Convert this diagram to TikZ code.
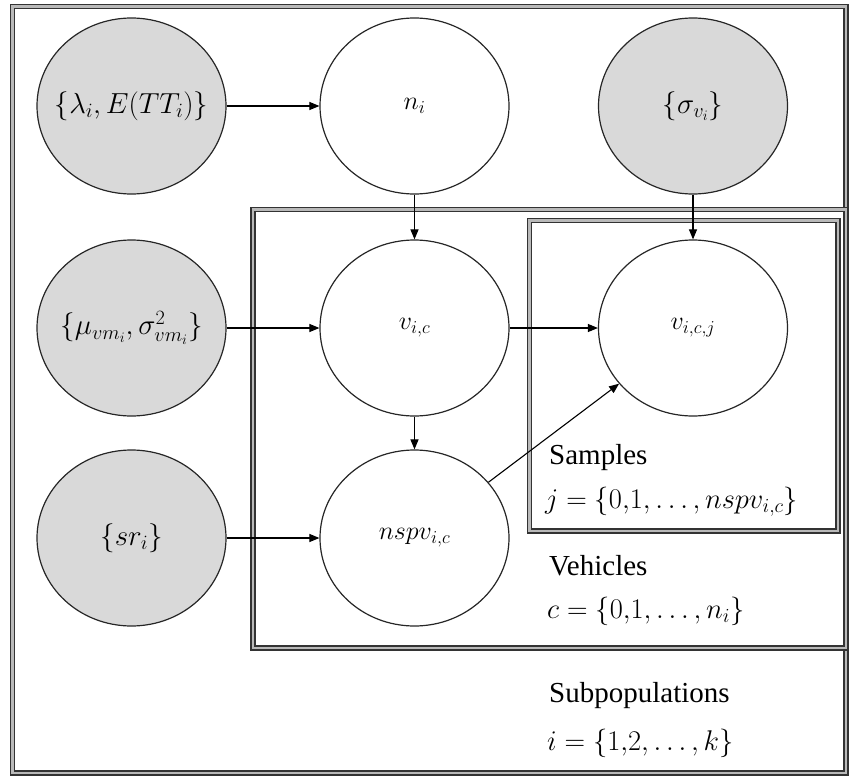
\RequirePackage{fix-cm}
\documentclass[tikz,border=0pt]{standalone}
\usepackage{fontspec}
\setmainfont{Liberation Serif}
\usetikzlibrary{shapes.geometric,arrows.meta}
\newcommand{\zw}[1]{\makebox[0pt][c]{#1}}
\begin{document}
\begin{tikzpicture}[x=1pt,y=-1pt,
  rv/.style={ellipse,draw=black!85,line width=1.2pt,minimum width=189pt,minimum height=176pt,inner sep=0pt},
  obs/.style={rv,fill=gray!30,font=\fontsize{29}{34}\selectfont},
  lat/.style={rv,fill=white,font=\fontsize{26}{30}\selectfont},
  plate/.style={draw=black!80,line width=1.5pt,double=gray!55,double distance=2.4pt},
  arr/.style={-{Triangle[width=8pt,length=10pt]},line width=1.1pt,draw=black},
  lbl/.style={anchor=base west,inner sep=0pt,font=\fontsize{29}{34}\selectfont},
  mlbl/.style={lbl,font=\fontsize{28.5}{34}\selectfont}]
\useasboundingbox (0,0) rectangle (849,776);
% plates
\draw[plate] (12.5,6.5) rectangle (846,773);
\draw[plate] (253,209.5) rectangle (846,648);
\draw[plate] (529.5,220.5) rectangle (838,531);
% nodes
\node[obs] (lam) at (131.5,106) {\zw{$\{\lambda_i, E(TT_i)\}$}};
\node[lat] (ni) at (414.5,106) {\zw{$n_i$}};
\node[obs] (sig) at (693,106) {\zw{$\{\sigma_{v_i}\}$}};
\node[obs] (mu) at (131.5,328) {\zw{$\{\mu_{vm_i},\sigma_{vm_i}^{2}\}$}};
\node[lat] (vic) at (414.5,328) {\zw{$v_{i,c}$}};
\node[lat] (vicj) at (693,328) {\zw{$v_{i,c,j}$}};
\node[obs] (sr) at (131.5,538) {\zw{$\{sr_i\}$}};
\node[lat] (nspv) at (414.5,538) {\zw{$nspv_{i,c}$}};
% edges
\draw[arr] (lam) -- (ni);
\draw[arr] (ni) -- (vic);
\draw[arr] (sig) -- (vicj);
\draw[arr] (mu) -- (vic);
\draw[arr] (vic) -- (vicj);
\draw[arr] (vic) -- (nspv);
\draw[arr] (sr) -- (nspv);
\draw[arr] (nspv) -- (vicj);
% labels
\node[lbl] (ls) at (549,464) {Samples};
\node[mlbl] (lj) at (545,508) {$j=\{0{,}1,\dots,nspv_{i,c}\}$};
\node[lbl] (lv) at (549,575) {Vehicles};
\node[mlbl] (lc) at (547,618) {$c=\{0{,}1,\dots,n_i\}$};
\node[lbl] (lp) at (549,702) {Subpopulations};
\node[mlbl] (li) at (547,750) {$i=\{1{,}2,\dots,k\}$};
\end{tikzpicture}
\end{document}
